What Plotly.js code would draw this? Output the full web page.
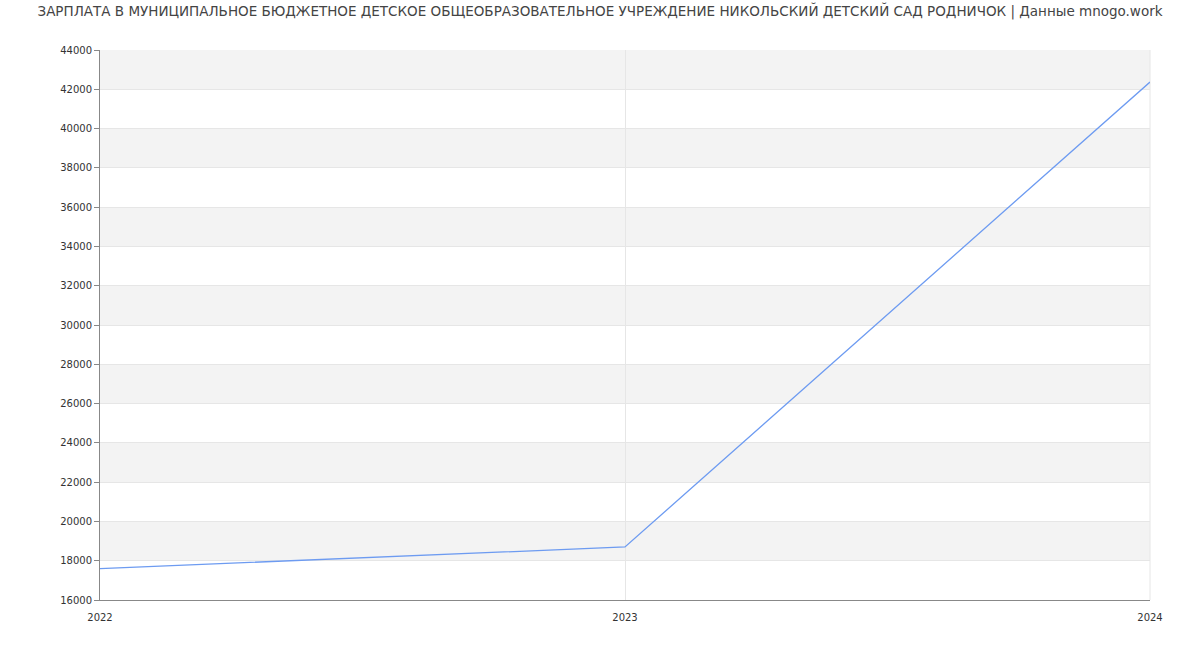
<!DOCTYPE html>
<html>
<head>
<meta charset="utf-8">
<script src="https://cdn.plot.ly/plotly-3.0.1.min.js"></script>
<style>html,body{margin:0;padding:0;background:#fff;}#chart{width:1200px;height:650px;}</style>
</head>
<body>
<div id="chart"></div>
<script>
const years = [2022, 2023, 2024];
const salaries = [17600, 18700, 42370];
const yTicks = [16000, 18000, 20000, 22000, 24000, 26000, 28000, 30000, 32000, 34000, 36000, 38000, 40000, 42000, 44000];
const bandStarts = [18000, 22000, 26000, 30000, 34000, 38000, 42000];
const bandWidth = 2000;
const titleText = 'ЗАРПЛАТА В МУНИЦИПАЛЬНОЕ БЮДЖЕТНОЕ ДЕТСКОЕ ОБЩЕОБРАЗОВАТЕЛЬНОЕ УЧРЕЖДЕНИЕ НИКОЛЬСКИЙ ДЕТСКИЙ САД РОДНИЧОК | Данные mnogo.work';

const shapes = bandStarts.map(s => ({
  type: 'rect', xref: 'paper', yref: 'y', x0: 0, x1: 1, y0: s, y1: s + bandWidth,
  fillcolor: '#f3f3f3', line: {width: 0}, layer: 'below'
}));
shapes.push({type: 'line', xref: 'paper', yref: 'paper', x0: 1, x1: 1, y0: 0, y1: 1, line: {color: '#e6e6e6', width: 1}, layer: 'below'});

const trace = {
  x: years, y: salaries, type: 'scatter', mode: 'lines',
  line: {color: '#6d9bf1', width: 1.3}, hoverinfo: 'x+y'
};

const layout = {
  width: 1200, height: 650,
  margin: {l: 100, r: 50, t: 50, b: 50},
  paper_bgcolor: '#ffffff', plot_bgcolor: '#ffffff',
  title: {text: titleText, x: 0.5, xanchor: 'center', y: 0.99, yanchor: 'top',
          font: {family: 'DejaVu Sans, sans-serif', size: 13.5, color: '#444'}},
  font: {family: 'DejaVu Sans, sans-serif', size: 10, color: '#333'},
  showlegend: false,
  shapes: shapes,
  xaxis: {
    range: [2022, 2024], tickvals: years, ticktext: years.map(String),
    showgrid: true, gridcolor: '#e6e6e6', gridwidth: 1,
    showline: true, linecolor: '#888', linewidth: 1,
    ticks: 'outside', ticklen: 8, tickcolor: 'rgba(0,0,0,0)',
    zeroline: false, fixedrange: true,
    tickfont: {size: 10, color: '#333'}
  },
  yaxis: {
    range: [16000, 44000], tickvals: yTicks, ticktext: yTicks.map(String),
    showgrid: true, gridcolor: '#e6e6e6', gridwidth: 1,
    showline: true, linecolor: '#888', linewidth: 1,
    ticks: 'outside', ticklen: 5, tickcolor: '#888',
    zeroline: false, fixedrange: true,
    tickfont: {size: 10, color: '#333'}
  }
};

Plotly.newPlot('chart', [trace], layout, {displayModeBar: false, staticPlot: true});
</script>
</body>
</html>
